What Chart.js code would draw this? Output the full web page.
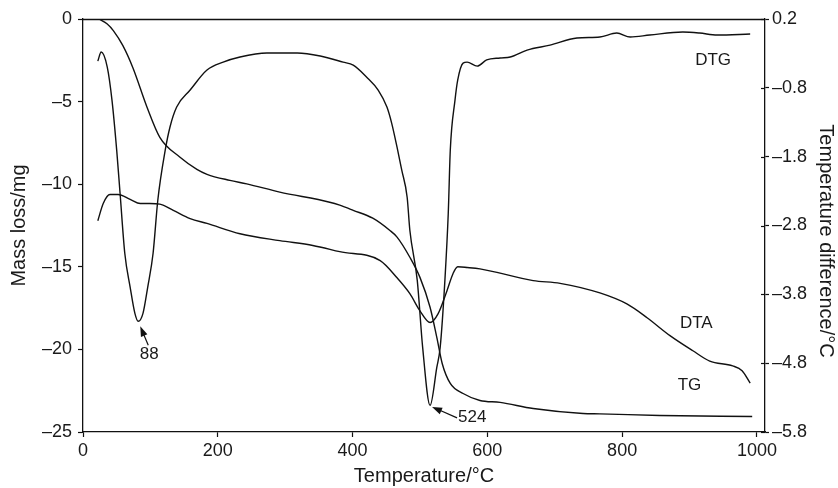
<!DOCTYPE html>
<html><head><meta charset="utf-8">
<script src="https://cdn.jsdelivr.net/npm/chart.js@4.4.1/dist/chart.umd.min.js"></script>
<style>html,body{margin:0;padding:0;background:#fff;}#c{display:block;}</style>
</head><body>
<canvas id="c" width="838" height="488"></canvas>
<script>
// ---- data ----
const xTicks = [0, 200, 400, 600, 800, 1000];
const leftTicks = [0, -5, -10, -15, -20, -25];
const rightTicks = [0.2, -0.8, -1.8, -2.8, -3.8, -4.8, -5.8];

// TG : mass loss / mg (left axis)
const tgT    = [24, 36, 45, 59, 74, 95, 114, 144, 169, 184, 218, 243, 292, 366, 381, 401, 430, 455, 466, 485, 500, 515, 525, 533, 545, 564, 589, 619, 668, 742, 767, 856, 993];
const tgMass = [0, -0.3, -0.7, -1.6, -2.95, -5.34, -7.16, -8.37, -9.1, -9.4, -9.77, -9.98, -10.48, -11.09, -11.27, -11.58, -12.06, -12.79, -13.2, -14.42, -15.64, -17.45, -19.27, -20.85, -22.06, -22.67, -23.09, -23.21, -23.58, -23.88, -23.9, -24.0, -24.06];

// DTA : temperature difference / °C (right axis)
const dtaT    = [22, 30, 40, 52, 70, 85, 99, 114, 134, 159, 184, 233, 292, 341, 381, 441, 466, 485, 500, 515, 527, 540, 549, 556, 570, 589, 668, 708, 767, 807, 837, 871, 905, 930, 964, 978, 990];
const dtaDiff = [-2.73, -2.48, -2.35, -2.35, -2.42, -2.48, -2.48, -2.49, -2.58, -2.70, -2.77, -2.92, -3.02, -3.09, -3.18, -3.31, -3.56, -3.79, -4.04, -4.21, -4.08, -3.75, -3.50, -3.40, -3.41, -3.43, -3.60, -3.64, -3.78, -3.94, -4.14, -4.40, -4.62, -4.77, -4.84, -4.91, -5.09];

// DTG (plotted on left-axis scale)
const dtgT   = [22, 27, 36, 43, 50, 55, 62, 70, 77, 82, 89, 96, 104, 111, 122, 129, 139, 159, 184, 208, 233, 273, 318, 352, 386, 401, 421, 438, 451, 458, 466, 473, 481, 485, 496, 504, 515, 525, 530, 537, 542, 545, 552, 556, 564, 570, 585, 599, 619, 634, 659, 693, 733, 767, 792, 812, 841, 890, 915, 941, 990];
const dtgVal = [-2.55, -2.0, -2.91, -4.91, -7.94, -10.55, -14.18, -16.24, -17.82, -18.30, -17.82, -16.24, -14.18, -10.97, -7.94, -6.55, -5.33, -4.30, -3.09, -2.61, -2.30, -2.06, -2.06, -2.24, -2.61, -2.79, -3.52, -4.30, -5.33, -6.30, -7.76, -9.15, -10.79, -12.79, -15.82, -19.88, -23.39, -21.09, -19.88, -15.82, -11.76, -7.94, -4.91, -3.70, -2.67, -2.61, -2.85, -2.48, -2.36, -2.30, -1.88, -1.58, -1.15, -1.09, -0.85, -1.09, -0.97, -0.79, -0.85, -0.97, -0.91];

// peak annotations (DTG minima)
const annoLabels = ['88', '524'];
const annoT = [82, 515];
const annoVal = [-18.30, -23.39];

// curve labels (left-axis coordinates)
const curveLabels = ['DTG', 'DTA', 'TG'];
const curveLabelT = [935, 910, 900];
const curveLabelVal = [-2.5, -18.4, -22.2];

// ---- drawing ----
const FONT = '"Liberation Sans", Arial, Helvetica, sans-serif';
const INK = '#111';
const TXT = '#1a1a1a';
const pts = (xs, ys) => xs.map((x, i) => ({x: x, y: ys[i]}));
const dash = s => String(s).replace('-', '\u2013');

const lineDs = (data, axis) => ({
  data: data, yAxisID: axis, borderColor: INK, borderWidth: 1.4,
  pointRadius: 0, fill: false, cubicInterpolationMode: 'monotone'
});

const extras = {
  id: 'extras',
  afterDatasetsDraw(chart) {
    const {ctx, chartArea: a, scales} = chart;
    const xs = scales.x, ys = scales.y, y2 = scales.y2;
    ctx.save();
    // top frame line
    ctx.strokeStyle = INK; ctx.lineWidth = 1.3;
    ctx.beginPath(); ctx.moveTo(a.left, a.top + 0.5); ctx.lineTo(a.right, a.top + 0.5); ctx.stroke();
    // inward half of the right-axis ticks (ticks cross the axis)
    ctx.lineWidth = 1.2;
    rightTicks.forEach(v => {
      const py = Math.round(y2.getPixelForValue(v)) + 0.5;
      ctx.beginPath(); ctx.moveTo(a.right - 4, py); ctx.lineTo(a.right, py); ctx.stroke();
    });
    // curve labels
    ctx.fillStyle = TXT;
    ctx.font = '17px ' + FONT;
    ctx.textAlign = 'center'; ctx.textBaseline = 'middle';
    curveLabels.forEach((t, i) => ctx.fillText(t, xs.getPixelForValue(curveLabelT[i]), ys.getPixelForValue(curveLabelVal[i])));
    // annotations with arrows
    const conf = [
      {tip: [2, 5], tail: [10, 24], text: [11, 33], align: 'center'},
      {tip: [2, 1.5], tail: [27, 12.5], text: [28, 11.5], align: 'left'}
    ];
    annoLabels.forEach((t, i) => {
      const px = xs.getPixelForValue(annoT[i]), py = ys.getPixelForValue(annoVal[i]);
      const c = conf[i];
      const tx = px + c.tip[0], ty = py + c.tip[1];
      const sx = px + c.tail[0], sy = py + c.tail[1];
      const ang = Math.atan2(ty - sy, tx - sx);
      ctx.strokeStyle = INK; ctx.lineWidth = 1.2;
      ctx.beginPath(); ctx.moveTo(sx, sy); ctx.lineTo(tx - 6 * Math.cos(ang), ty - 6 * Math.sin(ang)); ctx.stroke();
      ctx.fillStyle = INK;
      ctx.beginPath();
      ctx.moveTo(tx, ty);
      ctx.lineTo(tx - 10 * Math.cos(ang) + 3.5 * Math.sin(ang), ty - 10 * Math.sin(ang) - 3.5 * Math.cos(ang));
      ctx.lineTo(tx - 10 * Math.cos(ang) - 3.5 * Math.sin(ang), ty - 10 * Math.sin(ang) + 3.5 * Math.cos(ang));
      ctx.closePath(); ctx.fill();
      ctx.fillStyle = TXT;
      ctx.textAlign = c.align; ctx.textBaseline = 'middle';
      ctx.fillText(t, px + c.text[0], py + c.text[1]);
    });
    // right axis title
    ctx.save();
    ctx.translate(826, 241);
    ctx.rotate(Math.PI / 2);
    ctx.font = '20px ' + FONT;
    ctx.fillStyle = TXT; ctx.textAlign = 'center'; ctx.textBaseline = 'middle';
    ctx.fillText('Temperature difference/\u00B0C', 0, 0);
    ctx.restore();
    ctx.restore();
  }
};

new Chart(document.getElementById('c'), {
  type: 'line',
  data: {
    datasets: [
      lineDs(pts(tgT, tgMass), 'y'),
      lineDs(pts(dtaT, dtaDiff), 'y2'),
      lineDs(pts(dtgT, dtgVal), 'y')
    ]
  },
  options: {
    responsive: false, animation: false,
    layout: {padding: {top: 19, left: 0, right: 0, bottom: 0}},
    plugins: {legend: {display: false}, tooltip: {enabled: false}},
    scales: {
      x: {
        type: 'linear', min: 0, max: 1012,
        afterBuildTicks: a => { a.ticks = xTicks.map(v => ({value: v})); },
        afterFit: a => { a.height = 56; },
        grid: {drawOnChartArea: false, tickLength: 5, tickColor: INK, tickWidth: 1.2},
        border: {color: INK, width: 1.3},
        ticks: {font: {size: 18, family: FONT}, color: TXT, padding: 3, maxRotation: 0, autoSkip: false, callback: v => String(v)},
        title: {display: true, text: 'Temperature/\u00B0C', font: {size: 20, family: FONT}, color: TXT, padding: 0}
      },
      y: {
        type: 'linear', position: 'left', min: -25, max: 0,
        afterBuildTicks: a => { a.ticks = leftTicks.map(v => ({value: v})); },
        afterFit: a => { a.width = 83; },
        grid: {drawOnChartArea: false, tickLength: 5, tickColor: INK, tickWidth: 1.2},
        border: {color: INK, width: 1.3},
        ticks: {font: {size: 18, family: FONT}, color: TXT, padding: 6, callback: v => dash(v), autoSkip: false},
        title: {display: true, text: 'Mass loss/mg', font: {size: 20, family: FONT}, color: TXT, padding: {top: 7, bottom: 0}}
      },
      y2: {
        type: 'linear', position: 'right', min: -5.8, max: 0.2,
        afterBuildTicks: a => { a.ticks = rightTicks.map(v => ({value: v})); },
        afterFit: a => { a.width = 73; },
        grid: {drawOnChartArea: false, tickLength: 4, tickColor: INK, tickWidth: 1.2},
        border: {color: INK, width: 1.3},
        ticks: {font: {size: 18, family: FONT}, color: TXT, padding: 3, callback: v => dash(Number(v).toFixed(1)), autoSkip: false},
        title: {display: false}
      }
    }
  },
  plugins: [extras]
});
</script>
</body></html>
